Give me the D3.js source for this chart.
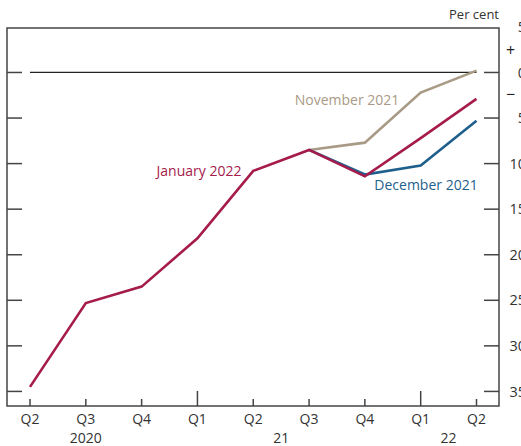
<!DOCTYPE html>
<html><head><meta charset="utf-8">
<script src="https://cdn.jsdelivr.net/npm/d3@7"></script>
<style>
html,body{margin:0;padding:0;background:#fff;}
svg{display:block;font-family:"Open Sans","Noto Sans",sans-serif;}
</style></head>
<body>
<svg id="chart" width="521" height="446"></svg>
<script>
const quarters = ["Q2","Q3","Q4","Q1","Q2","Q3","Q4","Q1","Q2"];
const years = [{label:"2020", from:0, to:2},{label:"21", from:3, to:6},{label:"22", from:7, to:8}];
const january2022 = [-34.5,-25.3,-23.5,-18.2,-10.8,-8.5,-11.4,-7.2,-2.9];
const december2021 = [null,null,null,null,null,-8.5,-11.2,-10.2,-5.3];
const november2021 = [null,null,null,null,null,-8.5,-7.7,-2.2,0.2];
const yTicks = [5,0,-5,-10,-15,-20,-25,-30,-35];
const seriesNames = ["November 2021","December 2021","January 2022"];
const seriesColors = ["#a99a86","#1f5f8c","#a51b4c"];

const svg = d3.select("#chart");
const L = 7, R = 499, T = 28, B = 406;
const x = d3.scaleLinear().domain([0, quarters.length-1]).range([30, 476.5]);
const y = d3.scaleLinear().domain([4.88, -36.6]).range([T, B]);
const axisCol = "#444", textCol = "#333";

// frame
svg.append("rect").attr("x",L).attr("y",T).attr("width",R-L).attr("height",B-T)
  .attr("fill","none").attr("stroke",axisCol).attr("stroke-width",1.5);

// right axis labels (right-aligned, running off the edge as in the original)
const rightAxis = d3.axisRight(y).tickValues(yTicks).tickSize(0).tickFormat(d=>Math.abs(d));
const ra = svg.append("g").attr("transform",`translate(${R},0)`).call(rightAxis);
ra.select(".domain").remove();
ra.selectAll("text").attr("x",27).attr("text-anchor","end").attr("font-size",14.5).attr("fill",textCol)
  .attr("font-family","'Open Sans','Noto Sans',sans-serif");
// inward tick marks both sides
yTicks.filter(v=>v<5).forEach(v=>{
  svg.append("line").attr("x1",R-15).attr("x2",R).attr("y1",y(v)).attr("y2",y(v))
    .attr("stroke",axisCol).attr("stroke-width",1.5);
  svg.append("line").attr("x1",L).attr("x2",L+15).attr("y1",y(v)).attr("y2",y(v))
    .attr("stroke",axisCol).attr("stroke-width",1.5);
});
// +/- signs
svg.append("text").attr("x",506).attr("y",(y(5)+y(0))/2+6).attr("font-size",16).attr("fill","#222").text("+");
svg.append("text").attr("x",506).attr("y",(y(0)+y(-5))/2+5).attr("font-size",16).attr("fill","#222").text("−");
svg.append("text").attr("x",R).attr("y",19).attr("text-anchor","end").attr("font-size",13).attr("fill",textCol).text("Per cent");

// zero line
svg.append("line").attr("x1",x(0)).attr("x2",x(quarters.length-1)).attr("y1",y(0)).attr("y2",y(0))
  .attr("stroke","#222").attr("stroke-width",1.3);

// bottom axis ticks
quarters.forEach((q,i)=>{
  const len = q==="Q1" ? 15 : 7;
  svg.append("line").attr("x1",x(i)).attr("x2",x(i)).attr("y1",B-len).attr("y2",B)
    .attr("stroke",axisCol).attr("stroke-width",1.5);
  svg.append("text").attr("x",x(i)).attr("y",424).attr("text-anchor","middle")
    .attr("font-size",14).attr("fill",textCol).text(q);
});
years.forEach(yr=>{
  svg.append("text").attr("x",(x(yr.from)+x(yr.to))/2).attr("y",443).attr("text-anchor","middle")
    .attr("font-size",14).attr("fill",textCol).text(yr.label);
});

// lines
const line = d3.line().defined(d=>d!==null).x((d,i)=>x(i)).y(d=>y(d));
[november2021, december2021, january2022].forEach((s,k)=>{
  svg.append("path").attr("d",line(s)).attr("fill","none")
    .attr("stroke",seriesColors[k]).attr("stroke-width",2.6).attr("stroke-linejoin","miter");
});

// labels
svg.append("text").attr("x",347).attr("y",105).attr("text-anchor","middle").attr("font-size",14)
  .attr("fill",seriesColors[0]).text(seriesNames[0]);
svg.append("text").attr("x",426).attr("y",190).attr("text-anchor","middle").attr("font-size",14)
  .attr("fill",seriesColors[1]).text(seriesNames[1]);
svg.append("text").attr("x",199).attr("y",176).attr("text-anchor","middle").attr("font-size",14)
  .attr("fill",seriesColors[2]).text(seriesNames[2]);
</script>
</body></html>
